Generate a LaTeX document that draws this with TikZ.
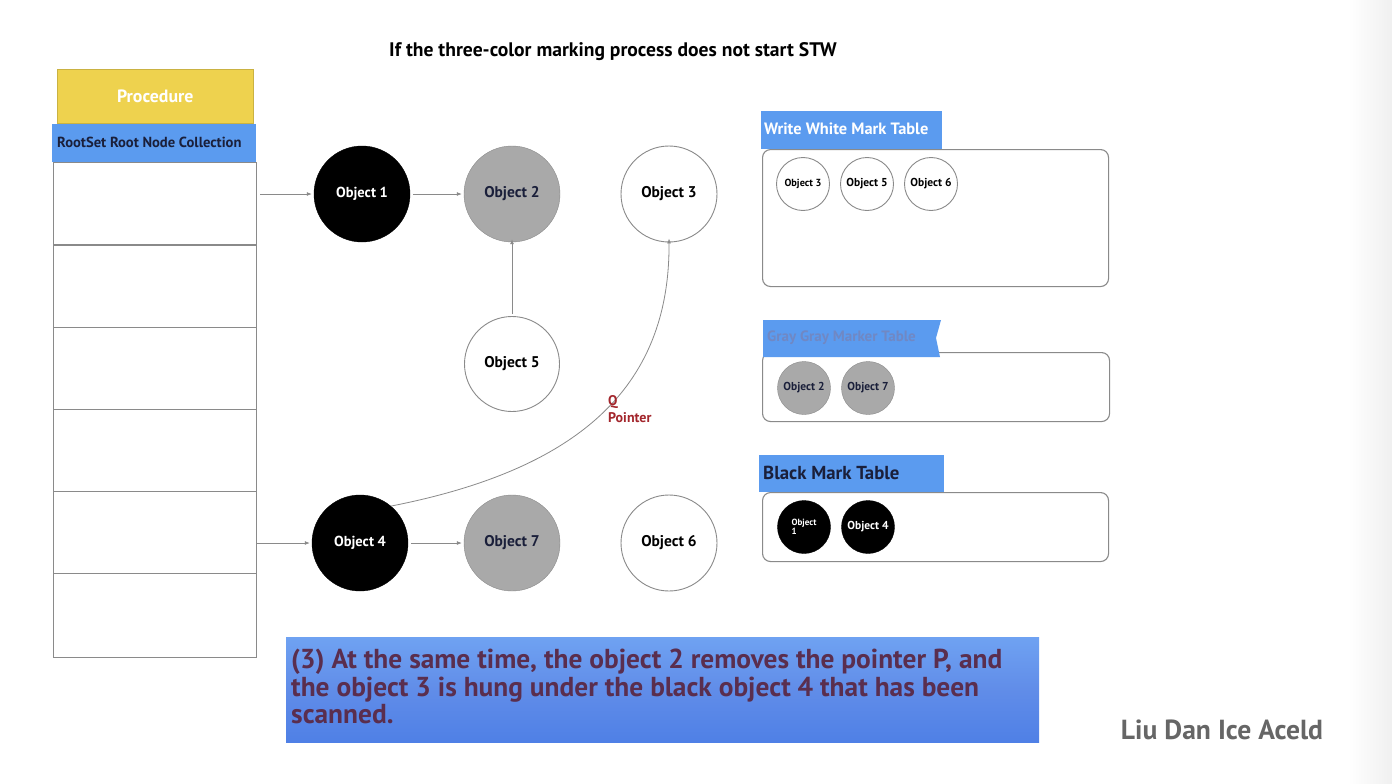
\documentclass[tikz,border=0pt]{standalone}
\usepackage{fontspec}
\setmainfont{PT Sans}
\usetikzlibrary{arrows.meta}
\definecolor{procyellow}{HTML}{EED24E}
\definecolor{hdrblue}{HTML}{5B9BEF}
\definecolor{navy}{HTML}{1A1F3A}
\definecolor{objgray}{HTML}{A9A9A9}
\definecolor{linegray}{HTML}{8A8A8A}
\definecolor{qred}{HTML}{A3262C}
\definecolor{captext}{HTML}{5A2E4E}
\definecolor{capblue}{HTML}{4F80E6}
\definecolor{caplight}{HTML}{6FA2F2}
\definecolor{authgray}{HTML}{666666}
\definecolor{graytxt}{HTML}{7088C4}
\tikzset{
  obj/.style={circle,minimum size=96pt,inner sep=0pt,font=\fontsize{15.5}{17}\selectfont\bfseries},
  blackobj/.style={obj,fill=black,draw=black,text=white,font=\fontsize{14.5}{17}\selectfont\bfseries},
  grayobj/.style={obj,fill=objgray,draw=linegray,text=navy},
  whiteobj/.style={obj,fill=white,draw=linegray,line width=0.9pt,text=black},
  sobj/.style={circle,minimum size=53pt,inner sep=0pt,font=\fontsize{11.5}{12}\selectfont\bfseries},
  sblack/.style={sobj,fill=black,draw=black,text=white},
  sgray/.style={sobj,fill=objgray,draw=linegray,text=navy},
  swhite/.style={sobj,fill=white,draw=linegray,line width=0.9pt,text=black},
  cell/.style={draw=linegray,line width=1pt,minimum width=203pt,minimum height=82pt,inner sep=0pt,anchor=north west},
  conn/.style={draw=linegray,line width=0.8pt,-{Latex[length=5pt,width=4pt]}},
  tablebox/.style={draw=linegray,line width=1.1pt,rounded corners=8pt,fill=white,anchor=north west,inner sep=0pt},
  hdr/.style={fill=hdrblue,anchor=north west,inner sep=0pt},
}
\begin{document}
\begin{tikzpicture}[x=1pt,y=-1pt]
\useasboundingbox (0,0) rectangle (1392,784);
\fill[white] (0,0) rectangle (1392,784);
\shade[left color=white,right color=black!6] (1348,0) rectangle (1392,784);

% title
\node[font=\fontsize{19.6}{22}\selectfont\bfseries,text=black] (title) at (613,52) {If the three-color marking process does not start STW};

% left panel
\node[fill=procyellow,draw=procyellow!85!black,minimum width=196pt,minimum height=54pt,anchor=north west,inner sep=0pt,
      text=white,font=\fontsize{17.8}{20}\selectfont\bfseries] (proc) at (57,69) {Procedure};
\node[cell] (r1) at (53,162) {};
\node[cell] (r2) at (53,245) {};
\node[cell] (r3) at (53,327) {};
\node[cell] (r4) at (53,409) {};
\node[cell] (r5) at (53,491) {};
\node[cell,minimum height=84pt] (r6) at (53,573) {};
\node[fill=hdrblue,minimum width=204pt,minimum height=38pt,anchor=north west,inner sep=0pt] (root) at (52,124) {};
\node[anchor=west,text=navy,font=\fontsize{14.6}{16}\selectfont\bfseries,inner sep=0pt] (roottxt) at (57,142) {RootSet Root Node Collection};

% objects
\node[blackobj] (o1) at (362,194) {Object 1};
\node[grayobj] (o2) at (512,194) {Object 2};
\node[whiteobj] (o3) at (669,194) {Object 3};
\node[whiteobj,minimum size=95pt] (o5) at (512,364) {Object 5};
\node[blackobj] (o4) at (360,543) {Object 4};
\node[grayobj] (o7) at (512,543) {Object 7};
\node[whiteobj] (o6) at (669,543) {Object 6};

% connectors
\draw[conn] ([xshift=3pt]r1.east |- o1.west) -- ([xshift=-2pt]o1.west);
\draw[conn] ([xshift=3pt]o1.east) -- ([xshift=-2pt]o2.west);
\draw[conn] ([yshift=2pt]o5.north) -- ([yshift=3pt]o2.south);
\draw[conn] (r5.east |- o4.west) -- ([xshift=-2pt]o4.west);
\draw[conn] ([xshift=3pt]o4.east) -- ([xshift=-2pt]o7.west);
\draw[conn] (o4.50) .. controls (575,470) and (670,390) .. ([yshift=4pt]o3.south);
\node[anchor=north west,align=left,text=qred,font=\fontsize{14}{17}\selectfont\bfseries,inner sep=0pt] (qlabel) at (608,395) {Q\\Pointer};

% white mark table
\node[tablebox,minimum width=346pt,minimum height=137pt] (wbox) at (762,149) {};
\node[hdr,minimum width=181pt,minimum height=38pt] (whdr) at (761,111) {};
\node[anchor=west,text=white,font=\fontsize{16.4}{18}\selectfont\bfseries,inner sep=0pt] (whtxt) at (764,129) {Write White Mark Table};
\node[swhite,font=\fontsize{10.3}{11}\selectfont\bfseries] (w3) at (803,184) {Object 3};
\node[swhite] (w5) at (867,184) {Object 5};
\node[swhite] (w6) at (931,184) {Object 6};

% gray mark table
\node[tablebox,minimum width=347pt,minimum height=69pt] (gbox) at (762,352) {};
\fill[hdrblue] (763,320) -- (941,320) -- (936,338) -- (940,357) -- (763,357) -- cycle;
\node[anchor=west,text=graytxt,font=\fontsize{15}{17}\selectfont\bfseries,inner sep=0pt] (ghtxt) at (767,338) {Gray Gray Marker Table};
\node[sgray] (g2) at (804,388) {Object 2};
\node[sgray] (g7) at (868,388) {Object 7};

% black mark table
\node[tablebox,minimum width=346pt,minimum height=69pt] (bbox) at (762,492) {};
\node[hdr,minimum width=185pt,minimum height=37pt] (bhdr) at (759,455) {};
\node[anchor=west,text=navy,font=\fontsize{18.8}{20}\selectfont\bfseries,inner sep=0pt] (bhtxt) at (763,473) {Black Mark Table};
\node[sblack,font=\fontsize{9}{9.5}\selectfont\bfseries,align=left] (b1) at (804,527) {Object\\1\hspace*{18pt}};
\node[sblack] (b4) at (868,527) {Object 4};

% caption
\shade[top color=caplight,bottom color=capblue,middle color=capblue!90!white] (286,637) rectangle (1039,742);
\node[anchor=north west,align=left,text=captext,font=\fontsize{27.4}{27.5}\selectfont\bfseries,inner sep=0pt] (cap) at (291,649)
{(3) At the same time, the object 2 removes the pointer P, and\\the object 3 is hung under the black object 4 that has been\\scanned.};

% author
\node[text=authgray,font=\fontsize{27.6}{30}\selectfont\bfseries] (author) at (1222,730) {Liu Dan Ice Aceld};
\end{tikzpicture}
\end{document}
